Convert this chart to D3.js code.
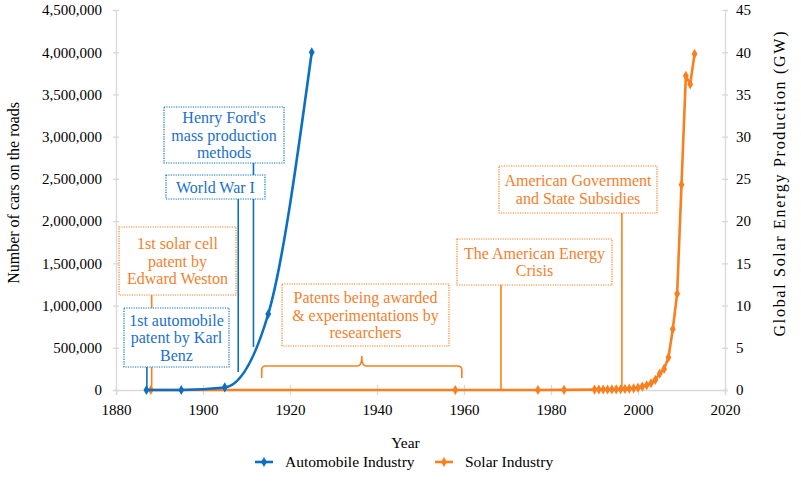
<!DOCTYPE html>
<html>
<head>
<meta charset="utf-8">
<script src="https://cdn.jsdelivr.net/npm/d3@7"></script>
<style>
  html, body { margin: 0; padding: 0; background: #fff; }
  svg { display: block; }
</style>
</head>
<body>
<svg id="chart" width="801" height="487"></svg>
<script>
// ---------- DATA ----------
const autoYears  = [1887, 1895, 1905, 1915, 1925];
const autoValues = [0, 300, 30000, 900000, 4000000];

const solarYears  = [1888, 1958, 1977, 1983, 1990, 1991, 1992, 1993, 1994, 1995, 1996, 1997, 1998, 1999,
                     2000, 2001, 2002, 2003, 2004, 2005, 2006, 2007, 2008, 2009, 2010, 2011, 2012, 2013];
const solarValues = [0, 0, 0, 0.02, 0.05, 0.06, 0.06, 0.06, 0.07, 0.08, 0.09, 0.13, 0.16, 0.2,
                     0.28, 0.4, 0.56, 0.8, 1.2, 1.95, 2.5, 3.85, 7.2, 11.4, 24.3, 37.2, 36.2, 39.8];

const xTicks      = [1880, 1900, 1920, 1940, 1960, 1980, 2000, 2020];
const leftTicks   = [0, 500000, 1000000, 1500000, 2000000, 2500000, 3000000, 3500000, 4000000, 4500000];
const rightTicks  = [0, 5, 10, 15, 20, 25, 30, 35, 40, 45];

const seriesNames = ["Automobile Industry", "Solar Industry"];
const xTitle = "Year";
const leftTitle = "Number of cars on the roads";
const rightTitle = "Global Solar Energy Production (GW)";

// annotations: text + anchor (year, value on its series' axis)
const annoTexts = [
  ["Henry Ford's", "mass production", "methods"],
  ["World War I"],
  ["1st solar cell", "patent by", "Edward Weston"],
  ["1st automobile", "patent by Karl", "Benz"],
  ["Patents being awarded", "& experimentations by", "researchers"],
  ["The American Energy", "Crisis"],
  ["American Government", "and State Subsidies"]
];
const annoSeries = ["auto", "auto", "solar", "auto", "solar", "solar", "solar"];
const annoYears  = [1911.6, 1908.1, 1888.2, 1887.1, null, 1968.5, 1996.3];
const annoValues = [510000, 213000, 0, 0, null, 0, 0];
const braceYears = [1913.5, 1959.5];

// ---------- LAYOUT ----------
const FONT = '"Liberation Serif", "Times New Roman"';
const C = {
  blue: "#0B6FC6", blueText: "#1B6FCF",
  orange: "#F9801F", orangeText: "#F5802C",
  axis: "#D9D9D9", text: "#000"
};
const plot = { left: 116, right: 725, top: 10, bottom: 390 };
const boxes = [ // x0, y0, x1, y1 (pixel layout of callout boxes)
  [164, 107, 284, 163],
  [166, 175, 265, 199],
  [119, 227, 236, 295],
  [124, 308, 229, 367],
  [282, 284, 449, 346],
  [457, 239, 612, 285],
  [499, 166, 657, 213]
];

const svg = d3.select("#chart");
const x  = d3.scaleLinear().domain([1880, 2020]).range([plot.left, plot.right]);
const yL = d3.scaleLinear().domain([0, 4500000]).range([plot.bottom, plot.top]);
const yR = d3.scaleLinear().domain([0, 45]).range([plot.bottom, plot.top]);

// ---------- AXES ----------
function styleAxis(g) {
  g.select(".domain").attr("stroke", C.axis).attr("stroke-width", 1.3);
  g.selectAll(".tick line").attr("stroke", C.axis).attr("stroke-width", 1.3);
  g.selectAll(".tick text").attr("fill", C.text).attr("font-size", 15);
}
const gx = svg.append("g").attr("transform", `translate(0,${plot.bottom})`)
  .call(d3.axisBottom(x).tickValues(xTicks).tickFormat(d3.format("d")).tickSizeOuter(0).tickSize(5).tickPadding(9));
styleAxis(gx);
gx.selectAll(".tick line").attr("y1", -5).attr("y2", 5);

const gl = svg.append("g").attr("transform", `translate(${plot.left},0)`)
  .call(d3.axisLeft(yL).tickValues(leftTicks).tickFormat(d3.format(",")).tickSizeOuter(0).tickSize(3).tickPadding(11));
styleAxis(gl);
gl.selectAll(".tick line").attr("x1", -3).attr("x2", 3);

const gr = svg.append("g").attr("transform", `translate(${plot.right},0)`)
  .call(d3.axisRight(yR).tickValues(rightTicks).tickSizeOuter(0).tickSize(3).tickPadding(8));
styleAxis(gr);
gr.selectAll(".tick line").attr("x1", -3).attr("x2", 3);

// axis titles
svg.append("text").attr("x", (plot.left + plot.right) / 2 - 15).attr("y", 448)
  .attr("text-anchor", "middle").attr("font-size", 15.5).text(xTitle);
svg.append("text").attr("transform", `translate(19,193) rotate(-90)`)
  .attr("text-anchor", "middle").attr("font-size", 16).text(leftTitle);
svg.append("text").attr("transform", `translate(785,184) rotate(-90)`)
  .attr("text-anchor", "middle").attr("font-size", 16)
  .attr("textLength", 305).attr("lengthAdjust", "spacing").text(rightTitle);

// ---------- CONNECTOR LINES ----------
const annoG = svg.append("g");
annoTexts.forEach((t, i) => {
  if (annoYears[i] == null) return;
  const b = boxes[i];
  const isAuto = annoSeries[i] === "auto";
  const xx = x(annoYears[i]);
  const yy = isAuto ? yL(annoValues[i]) : yR(annoValues[i]);
  annoG.append("line").attr("x1", xx).attr("x2", xx).attr("y1", b[3]).attr("y2", yy)
    .attr("stroke", isAuto ? C.blue : C.orange).attr("stroke-width", 1.6);
});

// brace
const bx0 = x(braceYears[0]), bx1 = x(braceYears[1]), bm = (bx0 + bx1) / 2;
const byTop = 366, byEnd = 378, byTip = 356;
const braceD = `M${bx0},${byEnd} L${bx0},${byTop + 4} Q${bx0},${byTop} ${bx0 + 4},${byTop}
  L${bm - 4},${byTop} Q${bm},${byTop} ${bm},${byTip}
  Q${bm},${byTop} ${bm + 4},${byTop} L${bx1 - 4},${byTop} Q${bx1},${byTop} ${bx1},${byTop + 4} L${bx1},${byEnd}`;
annoG.append("path").attr("d", braceD).attr("fill", "none").attr("stroke", C.orange).attr("stroke-width", 1.6);

// ---------- BOXES ----------
annoTexts.forEach((lines, i) => {
  const b = boxes[i];
  const isAuto = annoSeries[i] === "auto";
  const g = annoG.append("g");
  g.append("rect").attr("x", b[0]).attr("y", b[1]).attr("width", b[2] - b[0]).attr("height", b[3] - b[1])
    .attr("fill", "#fff").attr("stroke", isAuto ? C.blue : C.orange)
    .attr("stroke-width", 1.2).attr("stroke-dasharray", "1.2,1.2");
  const cx = (b[0] + b[2]) / 2, cy = (b[1] + b[3]) / 2;
  const lh = 17.5;
  lines.forEach((s, k) => {
    g.append("text").attr("x", cx).attr("y", cy + (k - (lines.length - 1) / 2) * lh)
      .attr("dy", "0.35em").attr("text-anchor", "middle").attr("font-size", 16)
      .attr("fill", isAuto ? C.blueText : C.orangeText).text(s);
  });
});

// ---------- SERIES ----------
const diamond = d3.symbol().type(d3.symbolDiamond).size(30);

const solarData = solarYears.map((yr, i) => ({ x: yr, y: solarValues[i] }));
const autoData  = autoYears.map((yr, i) => ({ x: yr, y: autoValues[i] }));

svg.append("path").datum(solarData)
  .attr("d", d3.line().x(d => x(d.x)).y(d => yR(d.y)))
  .attr("fill", "none").attr("stroke", C.orange).attr("stroke-width", 2.6).attr("stroke-linejoin", "round");
svg.append("g").selectAll("path").data(solarData).join("path")
  .attr("transform", d => `translate(${x(d.x)},${yR(d.y)})`).attr("d", diamond).attr("fill", C.orange);

svg.append("path").datum(autoData)
  .attr("d", d3.line().x(d => x(d.x)).y(d => Math.min(yL(d.y), plot.bottom)).curve(d3.curveMonotoneX))
  .attr("fill", "none").attr("stroke", C.blue).attr("stroke-width", 2.6);
svg.append("g").selectAll("path").data(autoData).join("path")
  .attr("transform", d => `translate(${x(d.x)},${yL(d.y)})`).attr("d", diamond).attr("fill", C.blue);

// ---------- LEGEND ----------
const legY = 462;
const legItems = [
  { name: seriesNames[0], color: C.blue, x0: 255 },
  { name: seriesNames[1], color: C.orange, x0: 435 }
];
legItems.forEach(it => {
  const g = svg.append("g");
  g.append("line").attr("x1", it.x0).attr("x2", it.x0 + 18).attr("y1", legY).attr("y2", legY)
    .attr("stroke", it.color).attr("stroke-width", 2.6);
  g.append("path").attr("transform", `translate(${it.x0 + 9},${legY})`).attr("d", diamond).attr("fill", it.color);
  g.append("text").attr("x", it.x0 + 30).attr("y", legY).attr("dy", "0.33em")
    .attr("font-size", 15.5).text(it.name);
});

// serif font on every text, inline style
svg.selectAll("text").style("font-family", FONT);
</script>
</body>
</html>
